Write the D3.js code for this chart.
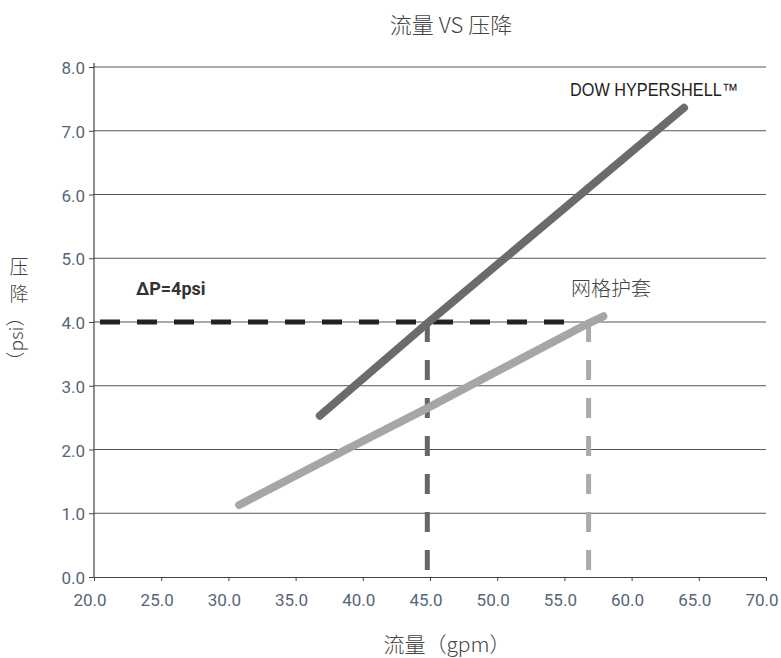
<!DOCTYPE html>
<html><head><meta charset="utf-8">
<script src="https://cdn.jsdelivr.net/npm/d3@7"></script>
<style>body{margin:0;background:#fff}</style>
</head><body>
<svg id="c" width="781" height="658"></svg>
<script>
const title = "流量 VS 压降";
const xLabel = "流量（gpm）";
const xTicks = [20,25,30,35,40,45,50,55,60,65,70];
const yTicks = [0,1,2,3,4,5,6,7,8];
const dowName = "DOW HYPERSHELL™";
const dowFlow = [36.8, 44.8, 63.9];
const dowDP   = [2.53, 3.98, 7.36];
const meshName = "网格护套";
const meshFlow = [30.8, 38.3, 44.8, 56.8, 57.9];
const meshDP   = [1.13, 1.95, 2.65, 3.98, 4.09];
const refDP = 4;
const refLabel = "ΔP=4psi";
const dowAt4 = 44.8, meshAt4 = 56.8;

const svg = d3.select("#c");
const x = d3.scaleLinear().domain([20,70]).range([94,766]);
const y = d3.scaleLinear().domain([0,8]).range([577,67]);
const tickColor = "#56657a";
const fmt = d3.format(".1f");

// gridlines
svg.append("g").selectAll("line").data(yTicks.filter(d=>d>0)).join("line")
  .attr("x1",x(20)).attr("x2",x(70)).attr("y1",d=>y(d)).attr("y2",d=>y(d))
  .attr("stroke","#555").attr("stroke-width",1);

// axes (lines and ticks from d3 axis, labels drawn separately)
const yAxis = svg.append("g").attr("transform",`translate(${x(20)},0)`)
  .call(d3.axisLeft(y).tickValues(yTicks).tickFormat("").tickSize(5).tickSizeOuter(0));
const xAxis = svg.append("g").attr("transform",`translate(0,${y(0)})`)
  .call(d3.axisBottom(x).tickValues(xTicks).tickFormat("").tickSize(4).tickSizeOuter(0));
[xAxis,yAxis].forEach(a=>{
  a.select(".domain").attr("stroke","#444").attr("stroke-width",1.2);
  a.selectAll(".tick line").attr("stroke","#444");
});
yAxis.select(".domain").attr("d",`M0,${y(8)-4}V${y(0)}`);

svg.append("g").selectAll("text").data(yTicks).join("text")
  .attr("x",x(20)-9).attr("y",d=>y(d)+7).attr("text-anchor","end")
  .attr("font-family","Roboto, sans-serif").attr("font-size",17).attr("fill",tickColor)
  .text(d=>fmt(d));
svg.append("g").selectAll("text").data(xTicks).join("text")
  .attr("x",d=>x(d)-4).attr("y",y(0)+29).attr("text-anchor","middle")
  .attr("font-family","Roboto, sans-serif").attr("font-size",17).attr("fill",tickColor)
  .text(d=>fmt(d));

const line = d3.line().x(d=>x(d[0])).y(d=>y(d[1]));

// vertical dashed lines
svg.append("line").attr("x1",x(dowAt4)).attr("x2",x(dowAt4)).attr("y1",y(refDP)).attr("y2",y(0))
  .attr("stroke","#666").attr("stroke-width",5).attr("stroke-dasharray","20 18");
svg.append("line").attr("x1",x(meshAt4)).attr("x2",x(meshAt4)).attr("y1",y(refDP)).attr("y2",y(0))
  .attr("stroke","#aaa").attr("stroke-width",5).attr("stroke-dasharray","20 18");

// horizontal dashed line
svg.append("line").attr("x1",x(20)+6).attr("x2",x(meshAt4)-16).attr("y1",y(refDP)).attr("y2",y(refDP))
  .attr("stroke","#222").attr("stroke-width",5).attr("stroke-dasharray","20 17");

// series
svg.append("path").datum(dowFlow.map((f,i)=>[f,dowDP[i]])).attr("d",line)
  .attr("fill","none").attr("stroke","#6b6b6b").attr("stroke-width",8).attr("stroke-linecap","round");
svg.append("path").datum(meshFlow.map((f,i)=>[f,meshDP[i]])).attr("d",line)
  .attr("fill","none").attr("stroke","#a6a6a6").attr("stroke-width",8).attr("stroke-linecap","round");

// texts
const cjk = "'Noto Sans CJK SC', sans-serif";
svg.append("text").attr("x",451).attr("y",33).attr("text-anchor","middle")
  .attr("font-family",cjk).attr("font-size",22).attr("font-weight",300).attr("fill","#444").text(title);
svg.append("text").attr("x",447).attr("y",652).attr("text-anchor","middle")
  .attr("font-family",cjk).attr("font-size",21).attr("font-weight",300).attr("fill","#444").text(xLabel);
svg.append("text").attr("x",19).attr("y",274).attr("text-anchor","middle")
  .attr("font-family",cjk).attr("font-size",19).attr("font-weight",300).attr("fill","#444").text("压");
svg.append("text").attr("x",19).attr("y",301).attr("text-anchor","middle")
  .attr("font-family",cjk).attr("font-size",19).attr("font-weight",300).attr("fill","#444").text("降");
svg.append("text").attr("transform","translate(23,339) rotate(-90)").attr("text-anchor","middle")
  .attr("font-family",cjk).attr("font-size",19).attr("font-weight",300).attr("fill","#444").text("（psi）");
svg.append("text").attr("x",570).attr("y",96)
  .attr("font-family","'Liberation Sans', Arial, sans-serif").attr("font-size",18)
  .attr("font-weight",400)
  .attr("fill","#222").attr("textLength",168).attr("lengthAdjust","spacingAndGlyphs").text(dowName);
svg.append("text").attr("x",136).attr("y",295)
  .attr("font-family","Roboto, sans-serif").attr("font-weight","bold").attr("font-size",18)
  .attr("fill","#333").text(refLabel);
svg.append("text").attr("x",571).attr("y",296)
  .attr("font-family",cjk).attr("font-size",20).attr("font-weight",300).attr("fill","#444").text(meshName);
</script>
</body></html>
